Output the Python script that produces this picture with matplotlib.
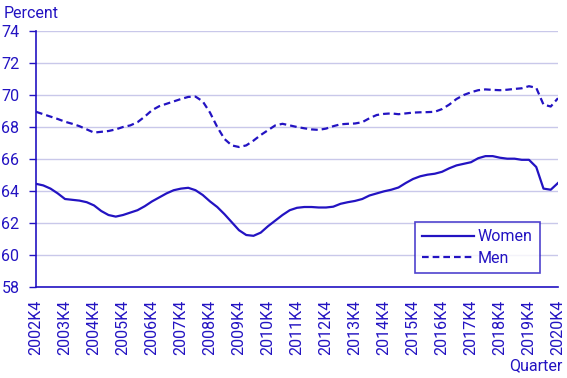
import numpy as np
import matplotlib.pyplot as plt

plt.rcParams['font.family'] = ['Roboto', 'DejaVu Sans']

# quarterly series 2002K4 .. 2020K4
years = list(range(2002, 2021))
quarters = [f'{y}K{q}' for y in range(2002, 2021) for q in (1, 2, 3, 4)][3:]

women = [64.45, 64.35, 64.15, 63.85, 63.5, 63.45, 63.4, 63.3, 63.1, 62.75,
         62.5, 62.4, 62.5, 62.65, 62.8, 63.05, 63.35, 63.6, 63.85, 64.05,
         64.15, 64.2, 64.05, 63.75, 63.35, 63.0, 62.55, 62.05, 61.55, 61.25,
         61.2, 61.4, 61.8, 62.15, 62.5, 62.8, 62.95, 63.0, 63.0, 62.97,
         62.97, 63.02, 63.2, 63.3, 63.38, 63.5, 63.72, 63.85, 63.98, 64.08,
         64.22, 64.5, 64.75, 64.92, 65.02, 65.08, 65.2, 65.42, 65.6, 65.7,
         65.8, 66.05, 66.18, 66.18, 66.08, 66.02, 66.02, 65.95, 65.95, 65.5,
         64.15, 64.08, 64.5]

men = [68.95, 68.8, 68.65, 68.5, 68.33, 68.2, 68.05, 67.85, 67.65, 67.7,
       67.75, 67.85, 68.0, 68.1, 68.3, 68.65, 69.05, 69.3, 69.45, 69.6,
       69.75, 69.88, 69.9, 69.6, 68.9, 68.0, 67.25, 66.85, 66.75, 66.85,
       67.15, 67.5, 67.8, 68.1, 68.2, 68.1, 68.0, 67.92, 67.85, 67.82,
       67.9, 68.05, 68.17, 68.2, 68.22, 68.3, 68.55, 68.75, 68.82, 68.85,
       68.8, 68.85, 68.9, 68.92, 68.93, 68.95, 69.12, 69.4, 69.75, 70.0,
       70.17, 70.3, 70.35, 70.32, 70.3, 70.33, 70.38, 70.42, 70.55, 70.45,
       69.4, 69.28, 69.8]

blue = '#2313c2'
grid_col = '#c9c8ea'

fig = plt.figure(figsize=(5.67, 3.78), dpi=100)
ax = fig.add_axes([0.0635, 0.2407, 0.9206, 0.6773])

x = np.arange(len(quarters))
ax.plot(x, women, color=blue, lw=1.6, label='Women')
ax.plot(x, men, color=blue, lw=1.6, ls=(0, (3, 1.8)), label='Men')

ax.set_xlim(0, len(quarters) - 1)
ax.set_ylim(58, 74)
ax.set_yticks(range(58, 75, 2))
ax.yaxis.grid(True, color=grid_col, lw=1)
ax.set_axisbelow(True)

# yearly labels, tick marks only every third year
ax.set_xticks(x[::4])
ax.set_xticklabels(quarters[::4], rotation=90)
ax.set_xticks(x[::12], minor=True)
ax.tick_params(axis='x', which='major', length=0, pad=9)
ax.tick_params(axis='x', which='minor', length=5, width=1, color=blue)
ax.tick_params(axis='y', length=5, width=1, color=blue, pad=7)
ax.tick_params(labelsize=11.5, labelcolor=blue)

for s in ('top', 'right'):
    ax.spines[s].set_visible(False)
for s in ('left', 'bottom'):
    ax.spines[s].set_color(blue)
    ax.spines[s].set_linewidth(1.2)

fig.text(0.007, 0.963, 'Percent', color=blue, fontsize=11.5, va='center')
fig.text(0.992, 0.032, 'Quarter', color=blue, fontsize=11.5, ha='right', va='center')

leg = ax.legend(loc='lower right', bbox_to_anchor=(0.965, 0.055), fontsize=11.5,
                frameon=True, fancybox=False, handlelength=3.3, handletextpad=0.2,
                borderpad=0.45, labelspacing=0.4, borderaxespad=0)
leg.get_frame().set_edgecolor(blue)
leg.get_frame().set_linewidth(1.2)
for t in leg.get_texts():
    t.set_color(blue)

fig.savefig('out.png', dpi=100)
